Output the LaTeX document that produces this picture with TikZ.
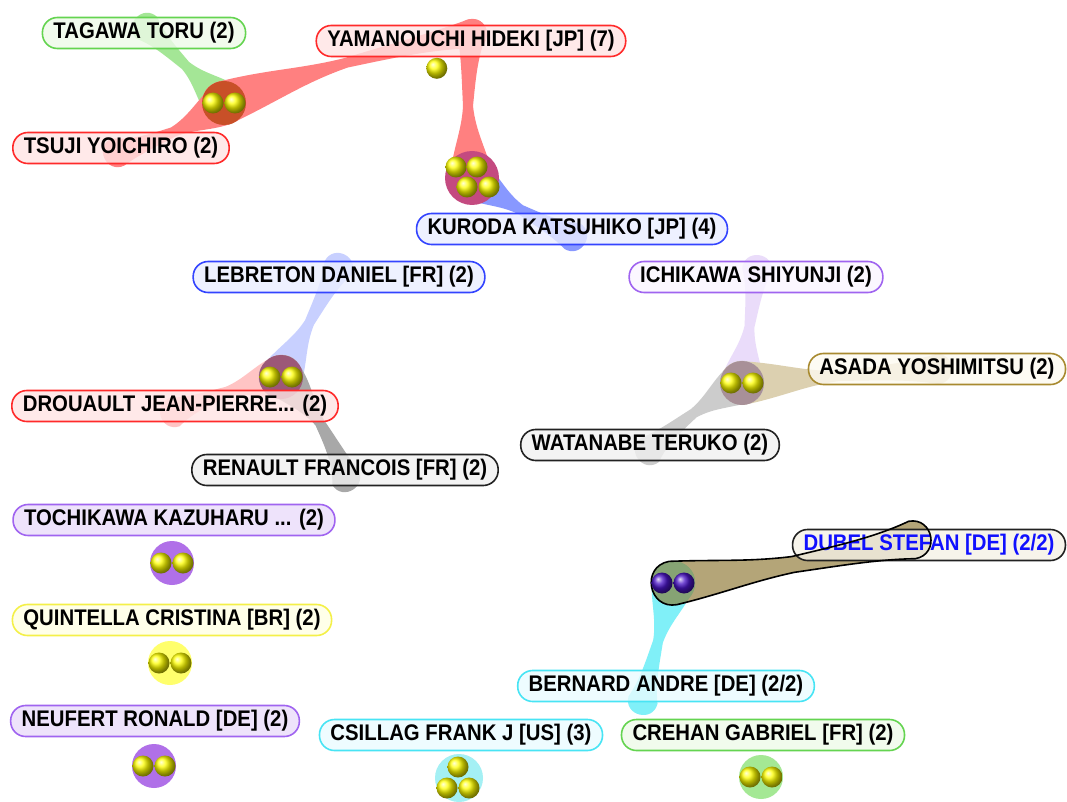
\documentclass[tikz,border=0pt]{standalone}
\usepackage{fontspec}
\setmainfont{Liberation Sans}[FakeStretch=0.9]
\usetikzlibrary{calc}

\pgfdeclarelayer{arms}
\pgfdeclarelayer{outline}
\pgfdeclarelayer{pearls}
\pgfsetlayers{arms,main,outline,pearls}

% label colours: line / fill
\definecolor{grnline}{HTML}{64D450}
\definecolor{grnfill}{HTML}{EEFBE9}
\definecolor{redline}{HTML}{FF2A2A}
\definecolor{redfill}{HTML}{FFE4E4}
\definecolor{bluline}{HTML}{3344FF}
\definecolor{blufill}{HTML}{EAEEFF}
\definecolor{purline}{HTML}{A064F0}
\definecolor{purfill}{HTML}{EADCFA}
\definecolor{purfilllt}{HTML}{FAF6FF}
\definecolor{oliline}{HTML}{A88A30}
\definecolor{olifill}{HTML}{FDFAF0}
\definecolor{blkline}{HTML}{222222}
\definecolor{blkfill}{HTML}{F0F0F0}
\definecolor{yelline}{HTML}{F4F048}
\definecolor{yelfill}{HTML}{FFFFE4}
\definecolor{cyaline}{HTML}{48E4F4}
\definecolor{cyafill}{HTML}{EAFCFF}
\definecolor{dubfill}{HTML}{F6F2E6}
\definecolor{dubtext}{HTML}{1010FF}
% arm colours
\definecolor{grnarm}{HTML}{A4E696}
\definecolor{redarm}{HTML}{FF8080}
\definecolor{redarmlt}{HTML}{FFC4C4}
\definecolor{bluarm}{HTML}{8898FF}
\definecolor{bluarmlt}{HTML}{C8D0FF}
\definecolor{purarm}{HTML}{EADCFA}
\definecolor{oliarm}{HTML}{DCD0B0}
\definecolor{grayarm}{HTML}{A8A8A8}
\definecolor{grayarmlt}{HTML}{CCCCCC}
\definecolor{cyaarm}{HTML}{80F0F8}
\definecolor{tanarm}{HTML}{826A1E}
% hub colours
\definecolor{hubA}{HTML}{C85028}
\definecolor{hubB}{HTML}{C44A80}
\definecolor{hubC}{HTML}{9C5878}
\definecolor{hubD}{HTML}{A89098}
\definecolor{hubE}{HTML}{8CFAF5}
\definecolor{hubpur}{HTML}{B070E8}
\definecolor{hubyel}{HTML}{FFFF6C}
\definecolor{hubcya}{HTML}{A4F0F4}
\definecolor{hubgrn}{HTML}{A4E894}
\definecolor{ballviolet}{HTML}{4A14C8}

% neck half-width and tip radius of an arm (pt)
\def\armneck{5}
\def\armtip{15}

% tapered arm from a hub (#2) to a tip (#3), bent sideways by #4 (pt)
\newcommand{\clusterarm}[4][]{%
  \pgfmathsetmacro\armA{17+0.64*#4}%
  \pgfmathsetmacro\armB{\armneck+2+0.84*#4}%
  \pgfmathsetmacro\armC{\armneck+#4}%
  \pgfmathsetmacro\armD{\armneck+3+0.64*#4}%
  \pgfmathsetmacro\armE{-17+0.64*#4}%
  \pgfmathsetmacro\armF{-\armneck-2+0.84*#4}%
  \pgfmathsetmacro\armG{-\armneck+#4}%
  \pgfmathsetmacro\armH{-\armneck-3+0.64*#4}%
  \pgfmathsetmacro\armT{\armtip}%
  \pgfmathsetmacro\armR{-1.33*\armtip}%
  \path[#1] ($(#2)!22pt!90:(#3)$)
    .. controls ($(#2)!0.2!(#3)!\armA pt!90:(#3)$) and ($(#2)!0.32!(#3)!\armB pt!90:(#3)$)
    .. ($(#2)!0.5!(#3)!\armC pt!90:(#3)$)
    .. controls ($(#2)!0.68!(#3)!\armB pt!90:(#3)$) and ($(#2)!0.85!(#3)!\armD pt!90:(#3)$)
    .. ($(#3)!\armT pt!-90:(#2)$)
    .. controls ($(#3)!\armR pt!(#2)!\armT pt!-90:(#2)$) and ($(#3)!\armR pt!(#2)!-\armT pt!-90:(#2)$)
    .. ($(#3)!-\armT pt!-90:(#2)$)
    .. controls ($(#2)!0.85!(#3)!\armH pt!90:(#3)$) and ($(#2)!0.68!(#3)!\armF pt!90:(#3)$)
    .. ($(#2)!0.5!(#3)!\armG pt!90:(#3)$)
    .. controls ($(#2)!0.32!(#3)!\armF pt!90:(#3)$) and ($(#2)!0.2!(#3)!\armE pt!90:(#3)$)
    .. ($(#2)!-22pt!90:(#3)$)
    .. controls ($(#2)!-29pt!(#3)!-22pt!90:(#3)$) and ($(#2)!-29pt!(#3)!22pt!90:(#3)$)
    .. cycle;
}

\begin{document}
\begin{tikzpicture}[
    x=1pt, y=-1pt,
    person/.style={rectangle, rounded corners=15pt, line width=1.6pt, minimum height=31pt,
      inner xsep=11pt, inner ysep=0pt, fill opacity=0.8, text opacity=1,
      font=\fontsize{22.6pt}{26pt}\selectfont\bfseries},
    hub/.style={circle, minimum size=44pt, inner sep=0pt},
    pearl/.style={ball color=yellow},
    violetpearl/.style={ball color=ballviolet}
]
\useasboundingbox (0,0) rectangle (1067,802);
\begin{pgfonlayer}{arms}
\fill[white] (0,0) rectangle (1067,802);
\end{pgfonlayer}

% === HUBS ===
\node[hub, fill=hubA] (hA) at (224,103) {};
\node[hub, fill=hubB, minimum size=54pt] (hB) at (472,178) {};
\node[hub, fill=hubC] (hC) at (281,377) {};
\node[hub, fill=hubD] (hD) at (742,383) {};
\node[hub, fill=hubpur] (hF) at (172,563) {};
\node[hub, fill=hubyel] (hG) at (170,663) {};
\node[hub, fill=hubpur] (hH) at (154,766) {};
\node[hub, fill=hubcya, minimum size=48pt] (hI) at (459,778) {};
\node[hub, fill=hubgrn] (hJ) at (761,777) {};

% === PEOPLE ===
\node[person, draw=grnline, fill=grnfill] (tagawa) at (144,33) {TAGAWA TORU (2)};
\node[person, draw=redline, fill=redfill] (yama) at (471,41) {YAMANOUCHI HIDEKI [JP] (7)};
\node[person, draw=redline, fill=redfill] (tsuji) at (121,148) {TSUJI YOICHIRO (2)};
\node[person, draw=bluline, fill=blufill] (kuroda) at (572,229) {KURODA KATSUHIKO [JP] (4)};
\node[person, draw=bluline, fill=blufill] (lebreton) at (339,277) {LEBRETON DANIEL [FR] (2)};
\node[person, draw=purline, fill=purfilllt] (ichikawa) at (756,277) {ICHIKAWA SHIYUNJI (2)};
\node[person, draw=oliline, fill=olifill] (asada) at (937,369) {ASADA YOSHIMITSU (2)};
\node[person, draw=redline, fill=redfill] (drouault) at (175,406) {DROUAULT JEAN-PIERRE... (2)};
\node[person, draw=blkline, fill=blkfill] (watanabe) at (650,445) {WATANABE TERUKO (2)};
\node[person, draw=blkline, fill=blkfill] (renault) at (345,470) {RENAULT FRANCOIS [FR] (2)};
\node[person, draw=purline, fill=purfill] (tochikawa) at (174,520) {TOCHIKAWA KAZUHARU ... (2)};
\node[person, draw=blkline, fill=dubfill, text=dubtext] (dubel) at (929,545) {DUBEL STEFAN [DE] (2/2)};
\node[person, draw=yelline, fill=yelfill] (quintella) at (172,620) {QUINTELLA CRISTINA [BR] (2)};
\node[person, draw=cyaline, fill=cyafill] (bernard) at (666,686) {BERNARD ANDRE [DE] (2/2)};
\node[person, draw=purline, fill=purfill] (neufert) at (155,721) {NEUFERT RONALD [DE] (2)};
\node[person, draw=cyaline, fill=cyafill] (csillag) at (461,735) {CSILLAG FRANK J [US] (3)};
\node[person, draw=grnline, fill=grnfill] (crehan) at (763,735) {CREHAN GABRIEL [FR] (2)};

% arm tips, tucked behind the labels
\coordinate (tagawa-tip) at (147,28);
\coordinate (yama-tip) at (472,34);
\coordinate (tsuji-tip) at (118,152);
\coordinate (kuroda-tip) at (572,236);
\coordinate (lebreton-tip) at (338,268);
\coordinate (drouault-tip) at (175,412);
\coordinate (renault-tip) at (345,477);
\coordinate (ichikawa-tip) at (757,270);
\coordinate (asada-tip) at (937,369);
\coordinate (watanabe-tip) at (650,450);
\coordinate (dubel-tip) at (912,540);
\coordinate (bernard-tip) at (643,700);

% === ARMS ===
\begin{pgfonlayer}{arms}
\clusterarm[fill=grnarm]{hA}{tagawa-tip}{0}
\clusterarm[fill=redarm]{hA}{yama-tip}{6}
\clusterarm[fill=redarm]{hA}{tsuji-tip}{5}
\clusterarm[fill=redarm]{hB}{yama-tip}{4}
\clusterarm[fill=bluarm]{hB}{kuroda-tip}{-3}
\clusterarm[fill=bluarmlt]{hC}{lebreton-tip}{0}
\clusterarm[fill=redarmlt]{hC}{drouault-tip}{-3}
\clusterarm[fill=grayarm]{hC}{renault-tip}{8}
\clusterarm[fill=purarm]{hD}{ichikawa-tip}{0}
\clusterarm[fill=oliarm]{hD}{asada-tip}{0}
\clusterarm[fill=grayarmlt]{hD}{watanabe-tip}{-4}
\node[hub, fill=hubE] (hE) at (673,583) {};
\clusterarm[fill=cyaarm]{hE}{bernard-tip}{0}
\fill[hubE] (hE) circle (22pt);
{\def\armneck{8}\def\armtip{19}
 \clusterarm[fill=tanarm, fill opacity=0.6]{hE}{dubel-tip}{-3}}
\end{pgfonlayer}

% outline of the German pair
\begin{pgfonlayer}{outline}
{\def\armneck{8}\def\armtip{19}
 \clusterarm[draw=black, line width=1.6pt]{hE}{dubel-tip}{-3}}
\end{pgfonlayer}

% === PEARLS ===
\begin{pgfonlayer}{pearls}
\foreach \h in {hA,hC,hD,hF,hG,hH,hJ}
  \foreach \dx in {-11,11}
    \shade[pearl] ($(\h)+(\dx,0)$) circle (10.5pt);
\foreach \dx/\dy in {-16/-11,5/-11,-5/9,17/9}
  \shade[pearl] ($(hB)+(\dx,\dy)$) circle (10.5pt);
\foreach \dx/\dy in {-1/-11,-12/10,10/10}
  \shade[pearl] ($(hI)+(\dx,\dy)$) circle (10.5pt);
\foreach \dx in {-11,11}
  \shade[violetpearl] ($(hE)+(\dx,0)$) circle (10.5pt);
\shade[pearl] ($(yama.south west)!0.39!(yama.south east)+(0,11)$) circle (10.5pt);
\end{pgfonlayer}

\end{tikzpicture}
\end{document}
